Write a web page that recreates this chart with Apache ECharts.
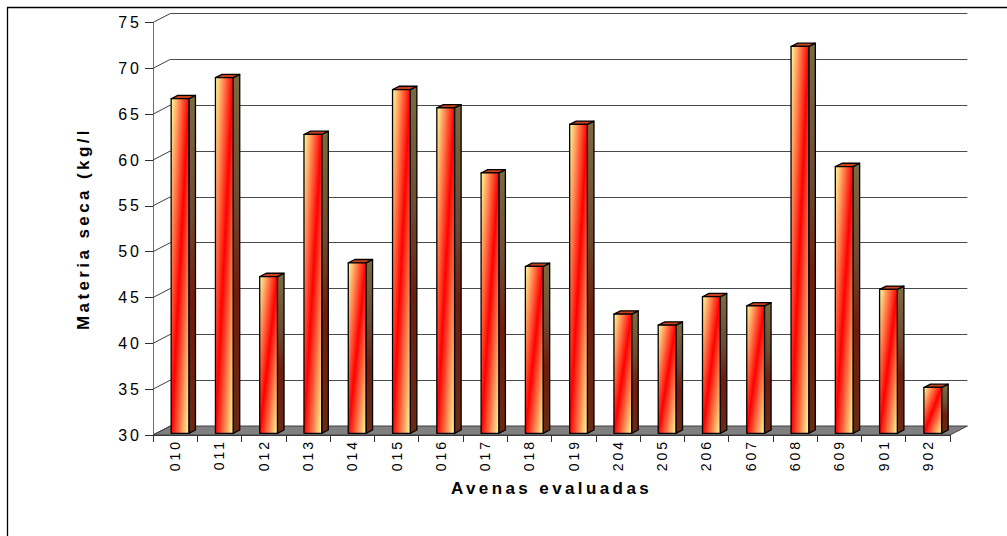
<!DOCTYPE html>
<html>
<head>
<meta charset="utf-8">
<script src="https://cdn.jsdelivr.net/npm/echarts@6/dist/echarts.min.js"></script>
<style>
  html, body { margin: 0; padding: 0; background: #fff; }
  #chart { width: 1007px; height: 536px; }
  /* wide letter spacing of the labels, per text size */
  #chart svg text[style*="14px"] { letter-spacing: 3px; }
  #chart svg text[style*="16px"] { letter-spacing: 3px; }
  #chart svg text[style*="bold"] { letter-spacing: 3.4px; }
</style>
</head>
<body>
<div id="chart"></div>
<script>
// Oat lines evaluated
const categories = ['010', '011', '012', '013', '014', '015', '016', '017', '018',
                    '019', '204', '205', '206', '607', '608', '609', '901', '902'];
// Dry matter per line
const materiaSeca = [66.5, 68.8, 47.1, 62.6, 48.6, 67.5, 65.5, 58.4, 48.2,
                     63.7, 43.0, 41.8, 44.9, 43.9, 72.2, 59.1, 45.7, 35.0];
// Value-axis ticks
const yTicks = [30, 35, 40, 45, 50, 55, 60, 65, 70, 75];

const FONT = '"Liberation Sans", Arial, sans-serif';

// Oblique projection of the depth axis (back wall offset)
const DEPTH_X = 17.3;
const DEPTH_Y = -9;
// Bar placement inside the depth and bar thickness
const BAR_SHIFT_Y = -1.7;
const BAR_SIDE_X = 6.6;
const BAR_SIDE_Y = -3.3;

const frontGrid = { left: 153, top: 22.5, width: 797, height: 412.5 };
const backGrid = {
  left: frontGrid.left + DEPTH_X, top: frontGrid.top + DEPTH_Y,
  width: frontGrid.width, height: frontGrid.height
};

// Gradient whose stripes run along the rising diagonal of the face
function diagGradient(x0, y0, x1, y1, stops) {
  const w = x1 - x0, h = y1 - y0;
  const L2 = w * w + h * h;
  const k = 2 * w * h / L2;
  return {
    type: 'linear', global: true,
    x: x0, y: y0, x2: x0 + h * k, y2: y0 + w * k,
    colorStops: stops
  };
}

const frontStops = [
  { offset: 0, color: '#ffff99' },
  { offset: 0.5, color: '#ff0000' },
  { offset: 1, color: '#ffff99' }
];

function renderBar(params, api) {
  const i = api.value(0);
  const v = api.value(1);
  const top = api.coord([i, v]);
  const base = api.coord([i, yTicks[0]]);
  const band = api.size([1, 0])[0];
  const bw = band * 0.4;
  const x0 = top[0] - band * 0.09;
  const x1 = x0 + bw;
  const y0 = top[1] + BAR_SHIFT_Y;
  const y1 = base[1] + BAR_SHIFT_Y;
  const dx = BAR_SIDE_X, dy = BAR_SIDE_Y;
  const stroke = { stroke: '#000', lineWidth: 1.3, lineJoin: 'round' };
  return {
    type: 'group',
    children: [
      {
        type: 'polygon',
        shape: { points: [[x1, y0], [x1 + dx, y0 + dy], [x1 + dx, y1 + dy], [x1, y1]] },
        style: Object.assign({
          fill: {
            type: 'linear', global: true, x: 0, y: y0, x2: 0, y2: y1,
            colorStops: [
              { offset: 0, color: '#7a6a40' },
              { offset: 0.35, color: '#6e4a30' },
              { offset: 0.6, color: '#701c0c' },
              { offset: 1, color: '#6a2a14' }
            ]
          }
        }, stroke)
      },
      {
        type: 'polygon',
        shape: { points: [[x0, y0], [x0 + dx, y0 + dy], [x1 + dx, y0 + dy], [x1, y0]] },
        style: Object.assign({ fill: '#c8401c' }, stroke)
      },
      {
        type: 'rect',
        shape: { x: x0, y: y0, width: bw, height: y1 - y0 },
        style: Object.assign({ fill: diagGradient(x0, y0, x1, y1, frontStops) }, stroke)
      }
    ]
  };
}

function renderFloor(params, api) {
  const cs = params.coordSys;
  const yb = cs.y + cs.height;
  return {
    type: 'polygon',
    shape: { points: [[cs.x, yb], [cs.x + cs.width, yb],
                      [cs.x + cs.width + DEPTH_X, yb + DEPTH_Y], [cs.x + DEPTH_X, yb + DEPTH_Y]] },
    style: { fill: '#808080', stroke: '#404040', lineWidth: 1 }
  };
}

function renderConnector(params, api) {
  const cs = params.coordSys;
  const p = api.coord([0, api.value(0)]);
  return {
    type: 'line',
    shape: { x1: cs.x, y1: p[1], x2: cs.x + DEPTH_X, y2: p[1] + DEPTH_Y },
    style: { stroke: '#404040', lineWidth: 1 }
  };
}

const chart = echarts.init(document.getElementById('chart'), null, { renderer: 'svg' });

chart.setOption({
  animation: false,
  backgroundColor: '#ffffff',
  grid: [
    Object.assign({ containLabel: false, outerBoundsMode: 'none' }, frontGrid),
    Object.assign({ containLabel: false, outerBoundsMode: 'none' }, backGrid)
  ],
  xAxis: [
    {
      type: 'category', gridIndex: 0, data: categories,
      boundaryGap: true,
      axisLine: { show: true, lineStyle: { color: '#303030', width: 1 } },
      axisTick: { show: true, length: 7, lineStyle: { color: '#303030', width: 1 } },
      axisLabel: { rotate: 90, fontSize: 14, fontFamily: FONT, color: '#000', margin: 4 },
      splitLine: { show: false },
      name: 'Avenas evaluadas',
      nameLocation: 'middle',
      nameGap: 45,
      nameMoveOverlap: false,
      nameTextStyle: { fontSize: 17, fontWeight: 'bold', fontFamily: FONT, color: '#000' }
    },
    {
      type: 'category', gridIndex: 1, data: categories, show: false
    }
  ],
  yAxis: [
    {
      type: 'value', gridIndex: 0, min: 30, max: 75, interval: 5,
      axisLine: { show: true, lineStyle: { color: '#707070', width: 1 } },
      axisTick: { show: true, length: 8, lineStyle: { color: '#303030', width: 1 } },
      axisLabel: { fontSize: 16, fontFamily: FONT, color: '#000', margin: 11 },
      splitLine: { show: false }
    },
    {
      type: 'value', gridIndex: 1, min: 30, max: 75, interval: 5,
      axisLine: { show: false }, axisTick: { show: false }, axisLabel: { show: false },
      splitLine: { show: true, lineStyle: { color: '#4a4a4a', width: 1 } }
    }
  ],
  series: [
    {
      type: 'custom', name: 'suelo', xAxisIndex: 0, yAxisIndex: 0,
      data: [[0, 30]], renderItem: renderFloor, z: 1, silent: true
    },
    {
      type: 'custom', name: 'guias', xAxisIndex: 0, yAxisIndex: 0,
      data: yTicks.map(function (t) { return [t]; }),
      encode: { y: 0 },
      renderItem: renderConnector, z: 1, silent: true
    },
    {
      type: 'custom', name: 'Materia seca', xAxisIndex: 0, yAxisIndex: 0,
      data: materiaSeca.map(function (v, i) { return [i, v]; }),
      encode: { x: 0, y: 1 },
      renderItem: renderBar, z: 3
    }
  ],
  graphic: [
    {
      type: 'rect', z: 100, silent: true,
      shape: { x: 7.5, y: 7.5, width: 1200, height: 800 },
      style: { fill: 'none', stroke: '#000', lineWidth: 1.3 }
    },
    {
      type: 'text', z: 50, silent: true,
      x: 83, y: 330, rotation: Math.PI / 2,
      style: {
        text: 'Materia seca (kg/ha)',
        fontSize: 17, fontWeight: 'bold', fontFamily: FONT, fill: '#000',
        align: 'left', verticalAlign: 'middle',
        textAlign: 'left', textVerticalAlign: 'middle'
      }
    },
    {
      // the title runs past the top edge of its box
      type: 'rect', z: 60, silent: true,
      shape: { x: 66, y: 12, width: 36, height: 119.7 },
      style: { fill: '#ffffff' }
    }
  ]
});
</script>
</body>
</html>
